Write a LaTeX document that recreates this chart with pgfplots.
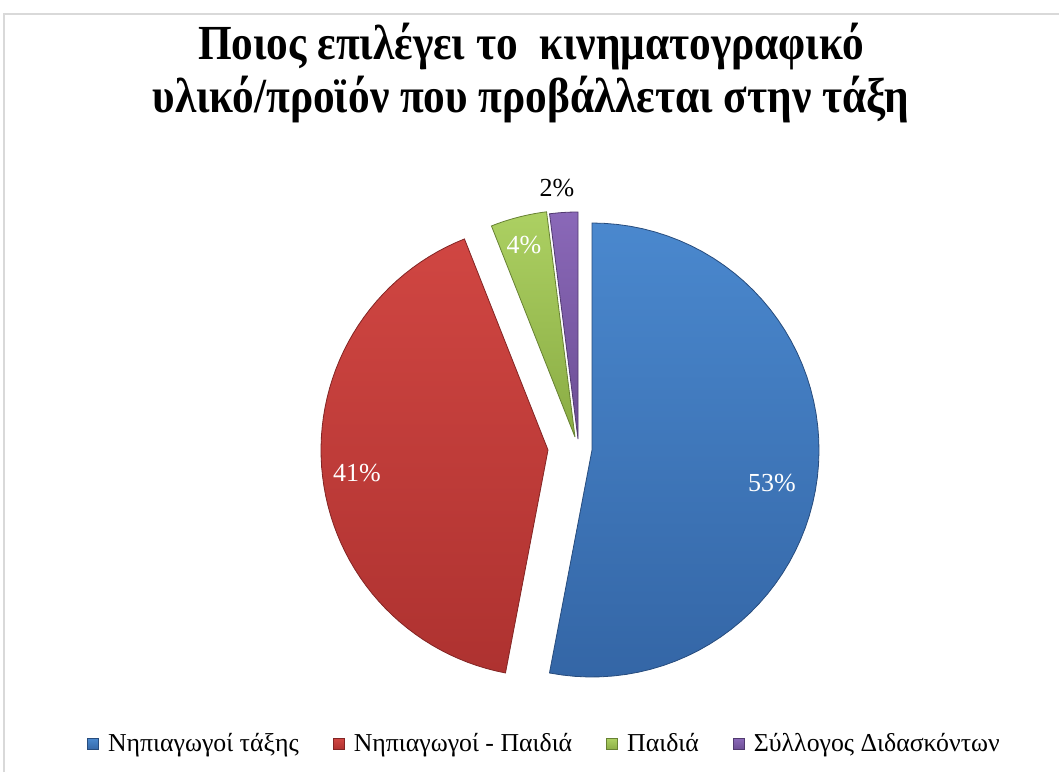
\documentclass[border=0pt]{standalone}
\usepackage{pgfplots}
\pgfplotsset{compat=1.18}
\usepackage{fontspec}
\setmainfont{Liberation Serif}
\definecolor{blueTop}{RGB}{74,136,206}
\definecolor{blueBot}{RGB}{52,102,166}
\definecolor{redTop}{RGB}{208,70,66}
\definecolor{redBot}{RGB}{174,50,48}
\definecolor{greenTop}{RGB}{172,208,98}
\definecolor{greenBot}{RGB}{138,172,68}
\definecolor{purpleTop}{RGB}{138,104,184}
\definecolor{purpleBot}{RGB}{108,78,148}
% #1 value (%), #2 start angle, #3 cx, #4 cy, #5 top colour, #6 bottom colour
\newcommand{\pieslice}[6]{%
  \addplot[top color=#5, bottom color=#6, draw=#6!75!black, line width=0.4pt,
    domain=0:61, samples=62, variable=\t]
  ({#3 + (\t>0.5)*(\t<60.5)*227*cos(#2 - 3.6*#1*(\t-1)/59)},
   {#4 + (\t>0.5)*(\t<60.5)*227*sin(#2 - 3.6*#1*(\t-1)/59)});
}
\begin{document}
\begin{tikzpicture}
\begin{axis}[
  scale only axis, width=529.5pt, height=386pt,
  xmin=0, xmax=1059, ymin=0, ymax=772,
  hide axis, clip=false,
  legend columns=-1,
  legend style={at={(0.515,0.036)}, anchor=center, draw=none, fill=none,
    font=\fontsize{12.9}{14}\selectfont,
    /tikz/every odd column/.append style={column sep=2.5pt},
    /tikz/every even column/.append style={column sep=15pt}},
  legend image code/.code={\draw[#1] (0pt,-2.8pt) rectangle (5.6pt,2.8pt);},
]
\pieslice{53}{90}{592}{322}{blueTop}{blueBot}
\pieslice{41}{-100.8}{548}{322}{redTop}{redBot}
\pieslice{4}{-248.4}{575}{335}{greenTop}{greenBot}
\pieslice{2}{-262.8}{578}{333}{purpleTop}{purpleBot}
\legend{Νηπιαγωγοί τάξης, Νηπιαγωγοί - Παιδιά, Παιδιά, Σύλλογος Διδασκόντων}
\node[white, font=\fontsize{13}{15}\selectfont] at (axis cs:772,289) {53\%};
\node[white, font=\fontsize{13}{15}\selectfont] at (axis cs:357,299) {41\%};
\node[white, font=\fontsize{13}{15}\selectfont] at (axis cs:524,527) {4\%};
\node[black, font=\fontsize{13}{15}\selectfont] at (axis cs:557,584) {2\%};
\node[align=center, xscale=0.884, transform shape, font=\fontsize{24.5}{26.5}\selectfont\bfseries]
  at (axis cs:531,699) {Ποιος επιλέγει το\ \ κινηματογραφικό\\υλικό/προϊόν που προβάλλεται στην τάξη};
\draw[black!15, line width=0.6pt] (axis cs:4,0) -- (axis cs:4,758) -- (axis cs:1059,758);
\end{axis}
\pgfresetboundingbox
\path (0,0) rectangle (529.5pt,386pt);
\end{tikzpicture}
\end{document}
